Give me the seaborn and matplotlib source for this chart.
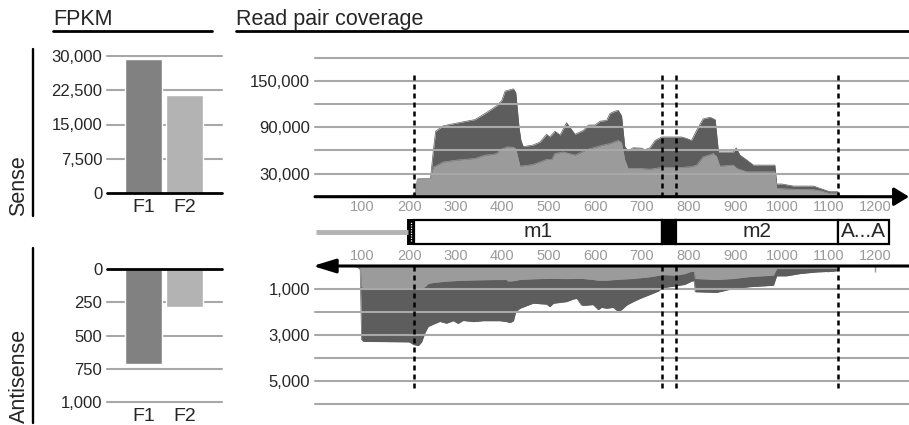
import numpy as np
import matplotlib
matplotlib.use("Agg")
import matplotlib.pyplot as plt
import seaborn as sns
from matplotlib.lines import Line2D
from matplotlib.patches import Rectangle

sns.set_style("white")
plt.rcParams["font.family"] = ["Liberation Sans", "DejaVu Sans"]

# ---------------- data ----------------
samples = ["F1", "F2"]
fpkm_sense = [29400, 21500]
fpkm_antisense = [715, 283]

fpkm_sense_ticks = [0, 7500, 15000, 22500, 30000]
fpkm_antisense_ticks = [0, 250, 500, 750, 1000]

# read-pair coverage along the transcript (position, depth)
sense_f1_pos = [0, 200, 212, 218, 246, 252, 257, 273, 302, 323, 341, 363, 388, 399, 406,
                424, 429, 436, 440, 445, 466, 481, 495, 502, 513, 524, 538, 556, 574, 585,
                599, 610, 624, 631, 642, 649, 656, 663, 670, 681, 699, 706, 717, 728, 742,
                785, 796, 806, 817, 831, 846, 857, 864, 896, 902, 910, 925, 939, 985, 989,
                1000, 1025, 1068, 1082, 1103, 1120, 1125, 1200, 1240]
sense_f1_val = [500, 1500, 2500, 23000, 24000, 60000, 85000, 92000, 95500, 98000, 100000,
                108000, 118000, 125000, 137000, 140000, 135000, 90000, 73000, 65000, 67000,
                71000, 81000, 77500, 85000, 80000, 96000, 81000, 86000, 93000, 93000, 98000,
                99000, 108000, 111000, 112000, 105000, 65000, 59500, 63500, 63000, 61000,
                63500, 73000, 77500, 77500, 75500, 73000, 86000, 101000, 103000, 100000,
                58000, 58000, 63500, 54000, 47500, 41000, 41000, 16500, 16500, 13800, 13800,
                10800, 6500, 6500, 800, 300, 0]

sense_f2_pos = [0, 200, 212, 218, 246, 252, 259, 273, 302, 341, 363, 375, 388, 395, 411,
                424, 429, 438, 466, 495, 506, 513, 531, 556, 581, 610, 631, 649, 656, 663,
                670, 695, 717, 742, 785, 806, 817, 831, 853, 860, 867, 896, 903, 925, 985,
                989, 1025, 1068, 1082, 1103, 1120, 1125, 1200, 1240]
sense_f2_val = [300, 800, 1500, 23000, 24000, 38500, 40400, 45000, 47500, 49600, 54000,
                54500, 56000, 61000, 64700, 64000, 62000, 39700, 41800, 48300, 48300, 56000,
                58000, 54000, 61000, 66000, 69000, 73000, 70000, 47500, 36700, 36700, 35700,
                38000, 38000, 39000, 41000, 51700, 56000, 52000, 39700, 41000, 36700, 32300,
                32300, 10800, 9600, 9200, 7800, 4400, 4000, 500, 200, 0]

anti_f1_pos = [0, 88, 95, 98, 102, 200, 210, 220, 227, 234, 241, 252, 266, 280, 295, 305,
               316, 338, 359, 395, 409, 417, 424, 429, 438, 466, 495, 502, 510, 538, 552,
               560, 570, 578, 595, 606, 613, 624, 638, 649, 656, 667, 681, 696, 717, 735,
               742, 746, 774, 792, 806, 812, 814, 860, 896, 932, 982, 986, 989, 1010, 1039,
               1075, 1110, 1121, 1123]
anti_f1_val = [0, 30, 150, 3200, 3280, 3300, 3420, 3460, 3300, 2900, 2630, 2530, 2410, 2490,
               2380, 2500, 2370, 2420, 2380, 2380, 2420, 2460, 2380, 1980, 1840, 1620, 1660,
               1770, 1620, 1550, 1440, 1410, 1700, 1710, 1680, 1900, 1800, 1840, 1800, 1980,
               1900, 1700, 1550, 1410, 1240, 1090, 980, 940, 860, 800, 660, 640, 1120, 1150,
               980, 900, 840, 600, 430, 430, 330, 260, 230, 200, 0]

anti_f2_pos = [0, 88, 95, 98, 102, 220, 227, 234, 241, 252, 280, 316, 359, 395, 409, 413,
               424, 438, 466, 502, 538, 570, 595, 606, 624, 649, 681, 717, 738, 746, 774,
               792, 806, 812, 814, 860, 896, 932, 982, 989, 1039, 1121, 1123]
anti_f2_val = [0, 20, 100, 900, 950, 950, 960, 900, 760, 720, 660, 620, 600, 590, 590, 660,
               640, 590, 560, 540, 550, 540, 590, 620, 620, 580, 545, 470, 400, 380, 400,
               330, 230, 230, 545, 590, 545, 460, 400, 115, 115, 100, 0]

# transcript model: segment boundaries and names
utr_start = 0
cap_start, cap_end = 198, 210
segment_edges = [210, 743, 773, 1121, 1230]
segment_names = ["m1", None, "m2", "A...A"]
feature_marks = [210, 743, 773, 1121]

pos_ticks = list(range(100, 1300, 100))
sense_cov_ticks = [30000, 90000, 150000]
anti_cov_ticks = [1000, 3000, 5000]

# ---------------- styling ----------------
W, H = 909, 425
dark = "#5d5d5d"
light = "#9b9b9b"
grid_c = "#a8a8a8"
tick_c = "#9a9a9a"
bar_colors = ["#818181", "#b3b3b3"]
xmin, xmax = -2, 1273
num_size = 12

fig = plt.figure(figsize=(W / 100, H / 100), dpi=100)


def add_ax(left, top, right, bottom):
    return fig.add_axes([left / W, 1 - bottom / H, (right - left) / W, (bottom - top) / H])


def strip(ax):
    for s in ax.spines.values():
        s.set_visible(False)


# ---------------- FPKM bars ----------------
def fpkm_panel(ax, values, ticks, inverted):
    sns.barplot(x=samples, y=values, hue=samples, palette=bar_colors, width=0.9,
                saturation=1, legend=False, ax=ax, zorder=2)
    ax.set_xlim(-0.89, 1.915)
    lim = (ticks[0], ticks[-1])
    ax.set_ylim(lim[::-1] if inverted else lim)
    ax.set_yticks(ticks)
    ax.set_yticklabels([f"{t:,}" for t in ticks])
    ax.set_xlabel("")
    ax.set_ylabel("")
    for t in ticks[1:]:
        ax.axhline(t, color=grid_c, lw=1.5, zorder=1, clip_on=False)
    ax.axhline(0, color="black", lw=2.0, zorder=4, clip_on=False)
    ax.tick_params(axis="y", length=0, pad=3.5, labelsize=num_size)
    ax.tick_params(axis="x", length=0, pad=4, labelsize=14)
    strip(ax)


ax_fs = add_ax(107, 56, 222, 193)
fpkm_panel(ax_fs, fpkm_sense, fpkm_sense_ticks, inverted=False)
ax_fa = add_ax(107, 269, 222, 402)
fpkm_panel(ax_fa, fpkm_antisense, fpkm_antisense_ticks, inverted=True)

# ---------------- coverage ----------------
def coverage(ax, pos1, val1, pos2, val2):
    sns.lineplot(x=pos1, y=val1, ax=ax, color=dark, lw=0.5, zorder=1)
    ax.fill_between(pos1, 0, val1, color=dark, lw=0, zorder=1)
    sns.lineplot(x=pos2, y=val2, ax=ax, color=light, lw=0.5, zorder=2)
    ax.fill_between(pos2, 0, val2, color=light, lw=0, zorder=2)
    ax.set_xlim(xmin, xmax)
    ax.set_xticks(pos_ticks)
    ax.set_xticklabels([str(p) for p in pos_ticks])
    ax.tick_params(axis="x", direction="in", length=4.5, width=1, color=tick_c,
                   labelcolor=tick_c, labelsize=10.5, pad=2.5)
    ax.tick_params(axis="y", length=0, pad=3.5, labelsize=num_size)
    ax.set_xlabel("")
    ax.set_ylabel("")
    strip(ax)


ax_s = add_ax(315, 58, 909, 196.7)
coverage(ax_s, sense_f1_pos, sense_f1_val, sense_f2_pos, sense_f2_val)
ax_s.set_ylim(0, 180000)
ax_s.set_yticks(sense_cov_ticks)
ax_s.set_yticklabels([f"{t:,}" for t in sense_cov_ticks])
for g in np.arange(30000, 180001, 30000):
    ax_s.axhline(g, color=grid_c, lw=1.5, zorder=3, clip_on=False)
ax_s.vlines(feature_marks, 0, 162500, colors="black", linestyles=(0, (2, 1.6)),
            lw=1.8, zorder=6)
ax_s.annotate("", xy=(xmax, 0), xytext=(xmin, 0), annotation_clip=False,
              arrowprops=dict(arrowstyle="-|>,head_length=0.36,head_width=0.22",
                              lw=2.2, color="black", mutation_scale=25,
                              shrinkA=0, shrinkB=0), zorder=7)

ax_a = add_ax(315, 266, 909, 404)
coverage(ax_a, anti_f1_pos, anti_f1_val, anti_f2_pos, anti_f2_val)
ax_a.set_ylim(6000, 0)
ax_a.xaxis.tick_top()
ax_a.set_yticks(anti_cov_ticks)
ax_a.set_yticklabels([f"{t:,}" for t in anti_cov_ticks])
for g in np.arange(1000, 6001, 1000):
    ax_a.axhline(g, color=grid_c, lw=1.5, zorder=3, clip_on=False)
ax_a.vlines(feature_marks, 0, 5450, colors="black", linestyles=(0, (2, 1.6)),
            lw=1.8, zorder=6)
ax_a.annotate("", xy=(-6.5, 0), xytext=(xmax, 0), annotation_clip=False,
              arrowprops=dict(arrowstyle="-|>,head_length=0.55,head_width=0.17",
                              lw=2.2, color="black", mutation_scale=25,
                              shrinkA=0, shrinkB=0), zorder=7)

# ---------------- transcript model ----------------
ax_g = add_ax(315, 219.5, 909, 243.5)
ax_g.set_xlim(xmin, xmax)
ax_g.set_ylim(0, 1)
ax_g.axis("off")
ax_g.plot([utr_start, cap_start], [0.5, 0.5], color="#b3b3b3", lw=3.5,
          solid_capstyle="butt")
ax_g.add_patch(Rectangle((cap_start, 0), cap_end - cap_start, 1, fc="black", ec="black",
                         lw=1.4, clip_on=False))
ax_g.vlines((cap_start + cap_end) / 2, 0.12, 0.88, colors="white",
            linestyles=(0, (1, 1)), lw=0.9)
for (a, b), name in zip(zip(segment_edges[:-1], segment_edges[1:]), segment_names):
    filled = name is None
    ax_g.add_patch(Rectangle((a, 0), b - a, 1, fc="black" if filled else "white",
                             ec="black", lw=1.6, clip_on=False))
    if name:
        ax_g.text((a + b) / 2, 0.48, name, ha="center", va="center", fontsize=15)

# ---------------- headings & side labels ----------------
fig.text(53 / W, 1 - 25 / H, "FPKM", fontsize=15.5, va="baseline", ha="left")
fig.add_artist(Line2D([53 / W, 212 / W], [1 - 30.5 / H] * 2, color="black", lw=2))
fig.text(236 / W, 1 - 25 / H, "Read pair coverage", fontsize=15.5, va="baseline", ha="left")
fig.add_artist(Line2D([236 / W, 909 / W], [1 - 30.5 / H] * 2, color="black", lw=2))

fig.text(19 / W, 1 - 216 / H, "Sense", rotation=90, ha="center", va="bottom", fontsize=15.5)
fig.add_artist(Line2D([32.5 / W] * 2, [1 - 49 / H, 1 - 216 / H], color="black", lw=1.7))
fig.text(19 / W, 1 - 423 / H, "Antisense", rotation=90, ha="center", va="bottom",
         fontsize=15.5)
fig.add_artist(Line2D([32.5 / W] * 2, [1 - 248 / H, 1 - 423 / H], color="black", lw=1.7))

fig.savefig("out.png", dpi=100)
